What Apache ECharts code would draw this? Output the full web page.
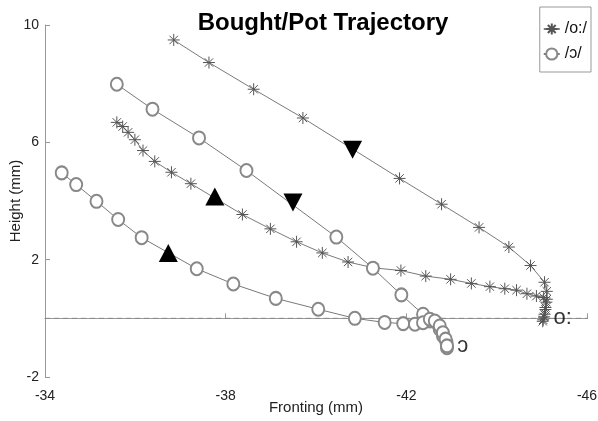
<!DOCTYPE html>
<html>
<head>
<meta charset="utf-8">
<script src="https://cdn.jsdelivr.net/npm/echarts@6/dist/echarts.min.js"></script>
<style>html,body{margin:0;padding:0;background:#fff}#c{width:598px;height:421px}</style>
</head>
<body>
<div id="c"></div>
<script>
// Trajectories [fronting, height] in mm
var oLong1 = [[-36.85,9.49],[-37.63,8.72],[-38.62,7.81],[-39.71,6.83],[-41.85,4.77],[-42.78,3.89],[-43.61,3.10],[-44.27,2.43],[-44.75,1.80],[-45.06,1.23],[-45.11,0.92],[-45.11,0.65],[-45.08,0.37],[-45.06,0.14],[-45.03,-0.05]];
var oLong2 = [[-35.59,6.68],[-35.72,6.54],[-35.84,6.34],[-35.99,6.09],[-36.17,5.72],[-36.43,5.35],[-36.80,4.98],[-37.23,4.59],[-38.37,3.54],[-38.99,3.05],[-39.57,2.61],[-40.14,2.23],[-40.71,1.92],[-41.28,1.72],[-41.88,1.63],[-42.43,1.44],[-42.98,1.33],[-43.44,1.19],[-43.85,1.08],[-44.18,1.01],[-44.44,0.96],[-44.67,0.84],[-44.88,0.76],[-45.04,0.71],[-45.10,0.55],[-45.08,0.30],[-45.05,0.05],[-45.02,-0.10]];
var openO1 = [[-35.59,7.98],[-36.38,7.13],[-37.41,6.15],[-38.46,5.04],[-40.45,2.77],[-41.26,1.71],[-41.89,0.80],[-42.37,0.14],[-42.52,-0.09],[-42.67,-0.15],[-42.74,-0.37],[-42.81,-0.60],[-42.89,-0.83],[-42.90,-1.00]];
var openO2 = [[-34.37,4.96],[-34.69,4.56],[-35.14,3.99],[-35.62,3.37],[-36.14,2.75],[-37.36,1.69],[-38.17,1.17],[-39.11,0.68],[-40.05,0.31],[-40.86,0.00],[-41.52,-0.14],[-41.93,-0.18],[-42.19,-0.20],[-42.37,-0.15],[-42.52,-0.03],[-42.63,-0.09],[-42.74,-0.26],[-42.81,-0.49],[-42.87,-0.71],[-42.90,-0.94]];
var arrowsDown = [[-40.81,5.75],[-39.49,3.95]];
var arrowsUp = [[-37.76,4.15],[-36.73,2.23]];
var baseline = [[-34,0],[-46.21,0]];
var endLabels = [{name:'o:', value:[-45.46,0.03]},{name:'ɔ', value:[-43.25,-0.95]}];
var xTicks = [-34,-38,-42,-46];
var yTicks = [-2,2,6,10];
var legendNames = ['/o:/','/ɔ/'];

var starPath = 'path://M10,0L10,20M0,10L20,10M3,3L17,17M3,17L17,3';
var font = 'Liberation Sans, Arial, sans-serif';

function starSeries(data){
  return {type:'line', name:legendNames[0], data:data, z:3,
    symbol:starPath, symbolSize:12,
    lineStyle:{color:'#7a7a7a', width:1},
    itemStyle:{color:'#7a7a7a', borderColor:'#555', borderWidth:1, opacity:1},
    emphasis:{disabled:true}};
}
function circSeries(data){
  return {type:'line', name:legendNames[1], data:data, z:3,
    symbol:'emptyCircle', symbolSize:[12,13],
    lineStyle:{color:'#7a7a7a', width:1},
    itemStyle:{color:'#888', borderColor:'#888', borderWidth:1, opacity:1},
    emphasis:{disabled:true}};
}

var chart = echarts.init(document.getElementById('c'), null, {renderer:'canvas'});
chart.setOption({
  backgroundColor:'#fff',
  animation:false,
  title:{text:'Bought/Pot Trajectory', left:318, textAlign:'center', top:6,
    textStyle:{fontFamily:font, fontWeight:'bold', fontSize:24, color:'#000'}},
  legend:{data:legendNames, orient:'vertical', right:7, top:7,
    padding:[14,4,10,3], itemGap:9, itemWidth:16, itemHeight:14,
    borderColor:'#999', borderWidth:1, borderRadius:0,
    textStyle:{fontFamily:font, fontSize:16, color:'#111'}, selectedMode:false},
  grid:{left:45, right:11, top:25, bottom:44, containLabel:false, outerBoundsMode:'none'},
  xAxis:{type:'value', min:-46, max:-34, inverse:true,
    name:'Fronting (mm)', nameLocation:'middle', nameGap:23, nameMoveOverlap:false,
    nameTextStyle:{fontFamily:font, fontSize:15, color:'#222'},
    axisLine:{show:true, lineStyle:{color:'#999', width:1}},
    axisTick:{show:true, inside:true, length:5, customValues:xTicks, lineStyle:{color:'#999'}},
    axisLabel:{customValues:xTicks, fontFamily:font, fontSize:14, color:'#222', margin:12},
    splitLine:{show:false}},
  yAxis:{type:'value', min:-2, max:10,
    name:'Height (mm)', nameLocation:'middle', nameGap:22, nameMoveOverlap:false,
    nameTextStyle:{fontFamily:font, fontSize:15, color:'#222'},
    axisLine:{show:true, lineStyle:{color:'#999', width:1}},
    axisTick:{show:true, inside:true, length:5, customValues:yTicks, lineStyle:{color:'#999'}},
    axisLabel:{customValues:yTicks, fontFamily:font, fontSize:14, color:'#222', margin:6},
    splitLine:{show:false}},
  series:[
    {type:'line', name:'baseline', data:baseline, clip:false, symbol:'none', z:1,
      lineStyle:{color:'#888', width:1, type:[5,4]}, emphasis:{disabled:true}, silent:true},
    starSeries(oLong1),
    starSeries(oLong2),
    circSeries(openO1),
    circSeries(openO2),
    {type:'scatter', name:'down', data:arrowsDown, symbol:'triangle', symbolRotate:180,
      symbolSize:[19,18], z:5, itemStyle:{color:'#000', opacity:1}, emphasis:{disabled:true}},
    {type:'scatter', name:'up', data:arrowsUp, symbol:'triangle',
      symbolSize:[19,18], z:5, itemStyle:{color:'#000', opacity:1}, emphasis:{disabled:true}},
    {type:'scatter', name:'labels', data:endLabels, symbolSize:1, z:6, clip:false,
      itemStyle:{color:'rgba(0,0,0,0)'},
      label:{show:true, position:'inside', formatter:function(p){return p.name;},
        fontFamily:font, fontSize:22, color:'#000'}, emphasis:{disabled:true}}
  ]
});
</script>
</body>
</html>
